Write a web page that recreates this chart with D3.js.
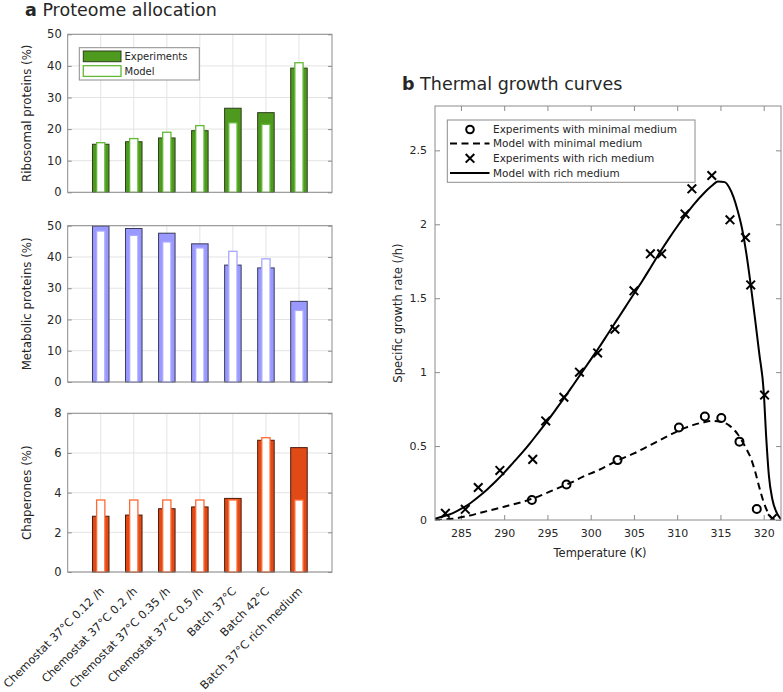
<!DOCTYPE html>
<html><head><meta charset="utf-8">
<script src="https://cdn.jsdelivr.net/npm/d3@7"></script>
<style>body{margin:0;background:#fff}svg{display:block}text{font-family:"DejaVu Sans",sans-serif;fill:#262626}</style>
</head><body><svg id="c" width="783" height="692"></svg>
<script>
const categories = ["Chemostat 37°C 0.12 /h","Chemostat 37°C 0.2 /h","Chemostat 37°C 0.35 /h","Chemostat 37°C 0.5 /h","Batch 37°C","Batch 42°C","Batch 37°C rich medium"];
const ribExp = [15.2,16.0,17.2,19.5,26.6,25.2,39.3];
const ribModel = [15.7,17.0,19.0,21.1,22.0,21.5,41.0];
const metExp = [49.9,49.1,47.6,44.2,37.4,36.5,25.8];
const metModel = [48.3,46.9,44.8,42.9,41.8,39.4,22.9];
const chapExp = [2.81,2.87,3.19,3.28,3.71,6.64,6.27];
const chapModel = [3.63,3.63,3.63,3.63,3.63,6.77,3.63];
const ribTicks = [0,10,20,30,40,50];
const metTicks = [0,10,20,30,40,50];
const chapTicks = [0,2,4,6,8];

const minExpT = [293.2,297.2,303.1,310.2,313.2,315.1,317.2,319.2];
const minExpR = [0.135,0.24,0.405,0.625,0.70,0.69,0.53,0.075];
const richExpT = [283.2,285.5,287.0,289.5,293.3,294.8,296.9,298.7,300.8,302.8,305.0,306.9,308.2,310.9,311.7,314.0,316.1,317.9,318.5,320.1,321.0];
const richExpR = [0.045,0.072,0.22,0.335,0.41,0.67,0.83,1.0,1.13,1.29,1.55,1.80,1.80,2.07,2.24,2.33,2.03,1.91,1.59,0.845,0.01];
const minModelT = [282,283,284,285,286,287,288,289,290,291,292,293,294,295,296,297,298,299,300,301,302,303,304,305,306,307,308,309,310,311,312,313,314,315,316,317,318,318.5,319,319.5,320,320.5,321,321.5];
const minModelR = [0,0.003,0.008,0.018,0.03,0.045,0.06,0.075,0.09,0.105,0.12,0.14,0.16,0.185,0.21,0.235,0.26,0.29,0.315,0.34,0.37,0.40,0.425,0.45,0.48,0.51,0.54,0.57,0.60,0.625,0.645,0.66,0.67,0.665,0.64,0.58,0.48,0.42,0.33,0.22,0.12,0.05,0.01,0];
const richModelT = [282,283,284,285,286,287,288,289,290,291,292,293,294,295,296,297,298,299,300,301,302,303,304,305,306,307,308,309,310,311,312,313,314,314.7,315.5,316,316.5,317,317.5,318,318.5,319,319.5,320,320.3,320.6,321,321.5,322];
const richModelR = [0.008,0.025,0.045,0.075,0.11,0.155,0.205,0.26,0.32,0.385,0.45,0.52,0.595,0.67,0.75,0.83,0.915,1.0,1.085,1.17,1.26,1.35,1.44,1.53,1.62,1.715,1.81,1.90,1.985,2.065,2.14,2.205,2.26,2.29,2.285,2.25,2.185,2.09,1.97,1.80,1.59,1.36,1.12,0.87,0.55,0.30,0.14,0.05,0.005];
const bTicksX = [285,290,295,300,305,310,315,320];
const bTicksY = [0,0.5,1,1.5,2,2.5];

const svg = d3.select("#c");
const boxCol = "#8c8c8c", gridCol = "#e3e3e3";

function title(x,y,b,t){
  const tx = svg.append("text").attr("x",x).attr("y",y).attr("font-size",17.5);
  tx.append("tspan").attr("font-weight","bold").text(b);
  tx.append("tspan").text(" "+t);
}
title(25,16,"a","Proteome allocation");
title(402,90,"b","Thermal growth curves");

// panel a
const ax0 = 67.7, ax1 = 332;
const xA = d3.scaleLinear().domain([0,8]).range([ax0,ax1]);
const panels = [
  {top:34.3,bot:192.3,max:50,ticks:ribTicks,exp:ribExp,mod:ribModel,fill:"#4e9a1f",edge:"#2d3d1a",medge:"#62b836",label:"Ribosomal proteins (%)"},
  {top:225.7,bot:382,max:50,ticks:metTicks,exp:metExp,mod:metModel,fill:"#9999ff",edge:"#3a3a5c",medge:"#a8a8ff",label:"Metabolic proteins (%)"},
  {top:413.3,bot:572,max:8,ticks:chapTicks,exp:chapExp,mod:chapModel,fill:"#df4a17",edge:"#4a1a08",medge:"#ff6a33",label:"Chaperones (%)"}
];
panels.forEach((p,pi)=>{
  const y = d3.scaleLinear().domain([0,p.max]).range([p.bot,p.top]);
  const g = svg.append("g");
  g.selectAll(".gy").data(p.ticks).enter().append("line")
    .attr("x1",ax0).attr("x2",ax1).attr("y1",d=>y(d)).attr("y2",d=>y(d)).attr("stroke",gridCol);
  g.selectAll(".gx").data(categories).enter().append("line")
    .attr("x1",(d,i)=>xA(i+1)).attr("x2",(d,i)=>xA(i+1)).attr("y1",p.top).attr("y2",p.bot).attr("stroke",gridCol);
  const la = d3.axisLeft(y).tickValues(p.ticks).tickSize(-4).tickPadding(6).tickFormat(d3.format("d"));
  const ag = g.append("g").attr("transform",`translate(${ax0},0)`).call(la);
  ag.select(".domain").remove();
  ag.selectAll("line").attr("stroke",boxCol);
  ag.selectAll("text").attr("font-size",11.5).attr("fill","#262626");
  const ra = d3.axisRight(y).tickValues(p.ticks).tickSize(-4).tickFormat("");
  const rg = g.append("g").attr("transform",`translate(${ax1},0)`).call(ra);
  rg.select(".domain").remove(); rg.selectAll("line").attr("stroke",boxCol);
  const ba = d3.axisBottom(xA).tickValues(d3.range(1,8)).tickSize(-4).tickFormat("");
  const bg = g.append("g").attr("transform",`translate(0,${p.bot})`).call(ba);
  bg.select(".domain").remove(); bg.selectAll("line").attr("stroke",boxCol);
  const bw = xA(0.5)-xA(0), mw = xA(0.25)-xA(0);
  g.selectAll(".e").data(p.exp).enter().append("rect")
    .attr("x",(d,i)=>xA(i+1)-bw/2).attr("width",bw)
    .attr("y",d=>y(d)).attr("height",d=>p.bot-y(d))
    .attr("fill",p.fill).attr("stroke",p.edge).attr("stroke-width",1);
  g.selectAll(".m").data(p.mod).enter().append("rect")
    .attr("x",(d,i)=>xA(i+1)-mw/2).attr("width",mw)
    .attr("y",d=>y(d)).attr("height",d=>p.bot-y(d))
    .attr("fill","#fff").attr("stroke",p.medge).attr("stroke-width",1.3);
  g.append("rect").attr("x",ax0).attr("y",p.top).attr("width",ax1-ax0).attr("height",p.bot-p.top)
    .attr("fill","none").attr("stroke",boxCol).attr("stroke-width",1);
  svg.append("text").attr("transform",`translate(31,${(p.top+p.bot)/2}) rotate(-90)`)
    .attr("text-anchor","middle").attr("font-size",11.8).text(p.label);
  if(pi===0){
    const lg = svg.append("g");
    lg.append("rect").attr("x",79.3).attr("y",47.7).attr("width",120).attr("height",32.3)
      .attr("fill","#fff").attr("stroke",boxCol);
    lg.append("rect").attr("x",83.3).attr("y",51).attr("width",37.7).attr("height",10.7)
      .attr("fill",p.fill).attr("stroke",p.edge);
    lg.append("rect").attr("x",83.3).attr("y",65.7).attr("width",37.7).attr("height",10.7)
      .attr("fill","#fff").attr("stroke",p.medge).attr("stroke-width",1.3);
    lg.append("text").attr("x",124.5).attr("y",60).attr("font-size",10).text("Experiments");
    lg.append("text").attr("x",124.5).attr("y",75).attr("font-size",10).text("Model");
  }
  if(pi===2){
    svg.selectAll(".xl").data(categories).enter().append("text")
      .attr("transform",(d,i)=>`translate(${xA(i+1)+4},${p.bot+20}) rotate(-45)`)
      .attr("text-anchor","end").attr("font-size",11.3).text(d=>d);
  }
});

// panel b
const bx0 = 435, bx1 = 781, by0 = 106, by1 = 520;
const xB = d3.scaleLinear().domain([282,322]).range([bx0,bx1]);
const yB = d3.scaleLinear().domain([0,2.8]).range([by1,by0]);
const gb = svg.append("g");
function axisB(axis, tr){
  const a = gb.append("g").attr("transform",tr).call(axis);
  a.select(".domain").remove(); a.selectAll("line").attr("stroke",boxCol);
  a.selectAll("text").attr("font-size",11).attr("fill","#262626");
  return a;
}
axisB(d3.axisBottom(xB).tickValues(bTicksX).tickSize(-5).tickPadding(9).tickFormat(d3.format("d")),`translate(0,${by1})`);
axisB(d3.axisTop(xB).tickValues(bTicksX).tickSize(-5).tickFormat(""),`translate(0,${by0})`);
axisB(d3.axisLeft(yB).tickValues(bTicksY).tickSize(-5).tickPadding(8).tickFormat(d=>String(d)),`translate(${bx0},0)`);
axisB(d3.axisRight(yB).tickValues(bTicksY).tickSize(-5).tickFormat(""),`translate(${bx1},0)`);

svg.append("clipPath").attr("id","cb").append("rect").attr("x",bx0).attr("y",by0).attr("width",bx1-bx0).attr("height",by1-by0);
const pl = gb.append("g").attr("clip-path","url(#cb)");
const line = d3.line().curve(d3.curveMonotoneX);
pl.append("path").attr("d",line(minModelT.map((t,i)=>[xB(t),yB(minModelR[i])])))
  .attr("fill","none").attr("stroke","#000").attr("stroke-width",2).attr("stroke-dasharray","7,4.5");
pl.append("path").attr("d",line(richModelT.map((t,i)=>[xB(t),yB(richModelR[i])])))
  .attr("fill","none").attr("stroke","#000").attr("stroke-width",2);
pl.selectAll(".ci").data(minExpT).enter().append("circle")
  .attr("cx",d=>xB(d)).attr("cy",(d,i)=>yB(minExpR[i])).attr("r",4)
  .attr("fill","none").attr("stroke","#000").attr("stroke-width",2);
function xmark(g,x,y,s){
  g.append("path").attr("d",`M${x-s},${y-s}L${x+s},${y+s}M${x-s},${y+s}L${x+s},${y-s}`)
    .attr("stroke","#000").attr("stroke-width",2).attr("fill","none");
}
richExpT.forEach((t,i)=>xmark(pl,xB(t),yB(richExpR[i]),4.3));
gb.append("rect").attr("x",bx0).attr("y",by0).attr("width",bx1-bx0).attr("height",by1-by0)
  .attr("fill","none").attr("stroke",boxCol);

const lb = svg.append("g");
lb.append("rect").attr("x",447.3).attr("y",120).attr("width",247.7).attr("height",62.3).attr("fill","#fff").attr("stroke",boxCol);
const rows = [129.5,143.5,158.3,173];
const labels = ["Experiments with minimal medium","Model with minimal medium","Experiments with rich medium","Model with rich medium"];
lb.append("circle").attr("cx",470).attr("cy",rows[0]).attr("r",3.8).attr("fill","none").attr("stroke","#000").attr("stroke-width",2);
lb.append("line").attr("x1",450).attr("x2",489.5).attr("y1",rows[1]).attr("y2",rows[1]).attr("stroke","#000").attr("stroke-width",2).attr("stroke-dasharray","7,4.5");
xmark(lb,470,rows[2],4.3);
lb.append("line").attr("x1",450).attr("x2",489.5).attr("y1",rows[3]).attr("y2",rows[3]).attr("stroke","#000").attr("stroke-width",2);
labels.forEach((t,i)=>lb.append("text").attr("x",493).attr("y",rows[i]+3.8).attr("font-size",10.5).text(t));

svg.append("text").attr("x",(bx0+bx1)/2-8).attr("y",556.5).attr("text-anchor","middle").attr("font-size",11.5).text("Temperature (K)");
svg.append("text").attr("transform",`translate(402,${(by0+by1)/2}) rotate(-90)`).attr("text-anchor","middle").attr("font-size",11.5).text("Specific growth rate (/h)");
</script></body></html>
